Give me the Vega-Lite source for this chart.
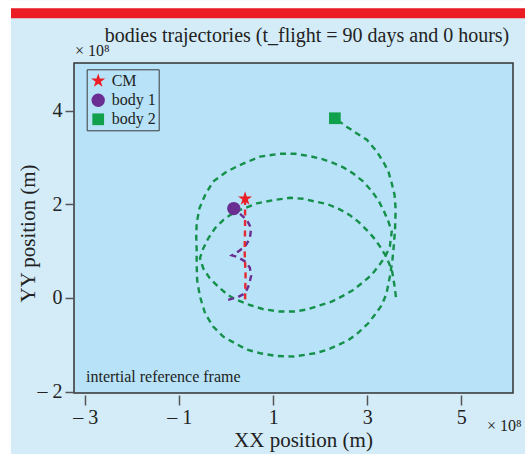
{
  "$schema": "https://vega.github.io/schema/vega-lite/v6.json",
  "width": 439,
  "height": 330,
  "padding": 0,
  "autosize": {"type": "pad"},
  "background": "#d3ecf8",
  "title": {
    "text": "bodies trajectories (t_flight = 90 days and 0 hours)",
    "font": "Liberation Serif",
    "fontSize": 20,
    "fontWeight": "normal",
    "color": "#222222",
    "frame": "group",
    "anchor": "middle",
    "dx": 13.5,
    "offset": -62,
    "baseline": "alphabetic"
  },
  "datasets": {
    "traj": [
      {"body": "body 2", "i": 1, "x": 3.61, "y": 0.02},
      {"body": "body 2", "i": 2, "x": 3.57, "y": 0.32},
      {"body": "body 2", "i": 3, "x": 3.53, "y": 0.56},
      {"body": "body 2", "i": 4, "x": 3.46, "y": 0.75},
      {"body": "body 2", "i": 5, "x": 3.38, "y": 0.92},
      {"body": "body 2", "i": 6, "x": 3.29, "y": 1.07},
      {"body": "body 2", "i": 7, "x": 3.16, "y": 1.26},
      {"body": "body 2", "i": 8, "x": 2.99, "y": 1.45},
      {"body": "body 2", "i": 9, "x": 2.82, "y": 1.62},
      {"body": "body 2", "i": 10, "x": 2.63, "y": 1.77},
      {"body": "body 2", "i": 11, "x": 2.40, "y": 1.90},
      {"body": "body 2", "i": 12, "x": 2.14, "y": 2.01},
      {"body": "body 2", "i": 13, "x": 1.89, "y": 2.06},
      {"body": "body 2", "i": 14, "x": 1.63, "y": 2.12},
      {"body": "body 2", "i": 15, "x": 1.36, "y": 2.14},
      {"body": "body 2", "i": 16, "x": 1.00, "y": 2.09},
      {"body": "body 2", "i": 17, "x": 0.65, "y": 2.02},
      {"body": "body 2", "i": 18, "x": 0.29, "y": 1.88},
      {"body": "body 2", "i": 19, "x": 0.08, "y": 1.77},
      {"body": "body 2", "i": 20, "x": -0.06, "y": 1.67},
      {"body": "body 2", "i": 21, "x": -0.24, "y": 1.49},
      {"body": "body 2", "i": 22, "x": -0.38, "y": 1.28},
      {"body": "body 2", "i": 23, "x": -0.49, "y": 1.06},
      {"body": "body 2", "i": 24, "x": -0.56, "y": 0.85},
      {"body": "body 2", "i": 25, "x": -0.49, "y": 0.63},
      {"body": "body 2", "i": 26, "x": -0.35, "y": 0.42},
      {"body": "body 2", "i": 27, "x": -0.17, "y": 0.24},
      {"body": "body 2", "i": 28, "x": 0.04, "y": 0.06},
      {"body": "body 2", "i": 29, "x": 0.22, "y": -0.04},
      {"body": "body 2", "i": 30, "x": 0.50, "y": -0.15},
      {"body": "body 2", "i": 31, "x": 0.79, "y": -0.24},
      {"body": "body 2", "i": 32, "x": 1.14, "y": -0.29},
      {"body": "body 2", "i": 33, "x": 1.46, "y": -0.29},
      {"body": "body 2", "i": 34, "x": 1.74, "y": -0.24},
      {"body": "body 2", "i": 35, "x": 1.99, "y": -0.16},
      {"body": "body 2", "i": 36, "x": 2.24, "y": -0.08},
      {"body": "body 2", "i": 37, "x": 2.49, "y": 0.05},
      {"body": "body 2", "i": 38, "x": 2.70, "y": 0.17},
      {"body": "body 2", "i": 39, "x": 2.90, "y": 0.33},
      {"body": "body 2", "i": 40, "x": 3.09, "y": 0.49},
      {"body": "body 2", "i": 41, "x": 3.26, "y": 0.71},
      {"body": "body 2", "i": 42, "x": 3.38, "y": 0.88},
      {"body": "body 2", "i": 43, "x": 3.48, "y": 1.10},
      {"body": "body 2", "i": 44, "x": 3.52, "y": 1.42},
      {"body": "body 2", "i": 45, "x": 3.45, "y": 1.63},
      {"body": "body 2", "i": 46, "x": 3.36, "y": 1.84},
      {"body": "body 2", "i": 47, "x": 3.24, "y": 2.08},
      {"body": "body 2", "i": 48, "x": 3.09, "y": 2.29},
      {"body": "body 2", "i": 49, "x": 2.91, "y": 2.49},
      {"body": "body 2", "i": 50, "x": 2.70, "y": 2.66},
      {"body": "body 2", "i": 51, "x": 2.49, "y": 2.79},
      {"body": "body 2", "i": 52, "x": 2.26, "y": 2.89},
      {"body": "body 2", "i": 53, "x": 2.03, "y": 2.97},
      {"body": "body 2", "i": 54, "x": 1.78, "y": 3.03},
      {"body": "body 2", "i": 55, "x": 1.46, "y": 3.08},
      {"body": "body 2", "i": 56, "x": 1.14, "y": 3.08},
      {"body": "body 2", "i": 57, "x": 0.72, "y": 3.02},
      {"body": "body 2", "i": 58, "x": 0.29, "y": 2.84},
      {"body": "body 2", "i": 59, "x": 0.01, "y": 2.70},
      {"body": "body 2", "i": 60, "x": -0.28, "y": 2.49},
      {"body": "body 2", "i": 61, "x": -0.45, "y": 2.20},
      {"body": "body 2", "i": 62, "x": -0.57, "y": 1.92},
      {"body": "body 2", "i": 63, "x": -0.63, "y": 1.60},
      {"body": "body 2", "i": 64, "x": -0.64, "y": 1.31},
      {"body": "body 2", "i": 65, "x": -0.63, "y": 1.03},
      {"body": "body 2", "i": 66, "x": -0.63, "y": 0.74},
      {"body": "body 2", "i": 67, "x": -0.62, "y": 0.38},
      {"body": "body 2", "i": 68, "x": -0.56, "y": 0.03},
      {"body": "body 2", "i": 69, "x": -0.45, "y": -0.33},
      {"body": "body 2", "i": 70, "x": -0.28, "y": -0.61},
      {"body": "body 2", "i": 71, "x": -0.06, "y": -0.83},
      {"body": "body 2", "i": 72, "x": 0.19, "y": -0.97},
      {"body": "body 2", "i": 73, "x": 0.43, "y": -1.10},
      {"body": "body 2", "i": 74, "x": 0.72, "y": -1.18},
      {"body": "body 2", "i": 75, "x": 1.07, "y": -1.24},
      {"body": "body 2", "i": 76, "x": 1.43, "y": -1.25},
      {"body": "body 2", "i": 77, "x": 1.64, "y": -1.22},
      {"body": "body 2", "i": 78, "x": 1.89, "y": -1.18},
      {"body": "body 2", "i": 79, "x": 2.14, "y": -1.11},
      {"body": "body 2", "i": 80, "x": 2.39, "y": -1.00},
      {"body": "body 2", "i": 81, "x": 2.60, "y": -0.90},
      {"body": "body 2", "i": 82, "x": 2.81, "y": -0.74},
      {"body": "body 2", "i": 83, "x": 3.02, "y": -0.54},
      {"body": "body 2", "i": 84, "x": 3.16, "y": -0.36},
      {"body": "body 2", "i": 85, "x": 3.31, "y": -0.15},
      {"body": "body 2", "i": 86, "x": 3.41, "y": 0.10},
      {"body": "body 2", "i": 87, "x": 3.48, "y": 0.46},
      {"body": "body 2", "i": 88, "x": 3.53, "y": 0.77},
      {"body": "body 2", "i": 89, "x": 3.56, "y": 1.07},
      {"body": "body 2", "i": 90, "x": 3.59, "y": 1.45},
      {"body": "body 2", "i": 91, "x": 3.60, "y": 1.77},
      {"body": "body 2", "i": 92, "x": 3.60, "y": 1.95},
      {"body": "body 2", "i": 93, "x": 3.58, "y": 2.20},
      {"body": "body 2", "i": 94, "x": 3.52, "y": 2.45},
      {"body": "body 2", "i": 95, "x": 3.45, "y": 2.70},
      {"body": "body 2", "i": 96, "x": 3.34, "y": 2.91},
      {"body": "body 2", "i": 97, "x": 3.20, "y": 3.13},
      {"body": "body 2", "i": 98, "x": 2.99, "y": 3.38},
      {"body": "body 2", "i": 99, "x": 2.77, "y": 3.52},
      {"body": "body 2", "i": 100, "x": 2.56, "y": 3.66},
      {"body": "body 2", "i": 101, "x": 2.31, "y": 3.84},
      {"body": "body 1", "i": 1, "x": 0.04, "y": -0.04},
      {"body": "body 1", "i": 2, "x": 0.25, "y": 0.02},
      {"body": "body 1", "i": 3, "x": 0.40, "y": 0.10},
      {"body": "body 1", "i": 4, "x": 0.48, "y": 0.27},
      {"body": "body 1", "i": 5, "x": 0.53, "y": 0.48},
      {"body": "body 1", "i": 6, "x": 0.50, "y": 0.65},
      {"body": "body 1", "i": 7, "x": 0.40, "y": 0.78},
      {"body": "body 1", "i": 8, "x": 0.25, "y": 0.87},
      {"body": "body 1", "i": 9, "x": 0.12, "y": 0.91},
      {"body": "body 1", "i": 10, "x": 0.25, "y": 0.99},
      {"body": "body 1", "i": 11, "x": 0.40, "y": 1.10},
      {"body": "body 1", "i": 12, "x": 0.50, "y": 1.27},
      {"body": "body 1", "i": 13, "x": 0.53, "y": 1.49},
      {"body": "body 1", "i": 14, "x": 0.44, "y": 1.66},
      {"body": "body 1", "i": 15, "x": 0.31, "y": 1.78},
      {"body": "body 1", "i": 16, "x": 0.16, "y": 1.91},
      {"body": "CM", "i": 1, "x": 0.40, "y": -0.03},
      {"body": "CM", "i": 2, "x": 0.41, "y": 0.50},
      {"body": "CM", "i": 3, "x": 0.39, "y": 1.00},
      {"body": "CM", "i": 4, "x": 0.40, "y": 1.50},
      {"body": "CM", "i": 5, "x": 0.40, "y": 2.12}
    ],
    "markers": [
      {"body": "CM", "x": 0.40, "y": 2.12},
      {"body": "body 1", "x": 0.16, "y": 1.91},
      {"body": "body 2", "x": 2.31, "y": 3.84}
    ]
  },
  "layer": [
    {
      "data": {"values": [{"part": "left margin"}]},
      "mark": {"type": "rect", "color": "#ffffff", "clip": false},
      "encoding": {
        "x": {"datum": -4.814, "type": "quantitative", "scale": {"domain": [-3.24, 6.1], "nice": false, "zero": false}},
        "x2": {"datum": -4.58},
        "y": {"datum": -3.3395, "type": "quantitative", "scale": {"domain": [-2.03, 5.02], "nice": false, "zero": false}},
        "y2": {"datum": 6.3595}
      }
    },
    {
      "data": {"values": [{"part": "top margin"}]},
      "mark": {"type": "rect", "color": "#ffffff", "clip": false},
      "encoding": {
        "x": {"datum": -4.814, "type": "quantitative", "scale": {"domain": [-3.24, 6.1], "nice": false, "zero": false}},
        "x2": {"datum": 6.3553},
        "y": {"datum": 6.189, "type": "quantitative", "scale": {"domain": [-2.03, 5.02], "nice": false, "zero": false}},
        "y2": {"datum": 6.3595}
      }
    },
    {
      "data": {"values": [{"part": "header band"}]},
      "mark": {"type": "rect", "color": "#ec1c24", "clip": false},
      "encoding": {
        "x": {"datum": -4.5804, "type": "quantitative", "scale": {"domain": [-3.24, 6.1], "nice": false, "zero": false}},
        "x2": {"datum": 6.3553},
        "y": {"datum": 5.975, "type": "quantitative", "scale": {"domain": [-2.03, 5.02], "nice": false, "zero": false}},
        "y2": {"datum": 6.189}
      }
    },
    {
      "data": {"name": "traj"},
      "mark": {"type": "line", "strokeDash": [6, 4.5], "strokeWidth": 2.4},
      "encoding": {
        "x": {
          "field": "x", "type": "quantitative",
          "scale": {"domain": [-3.24, 6.1], "nice": false, "zero": false},
          "axis": {
            "title": "XX position (m)",
            "values": [-3, -1, 1, 3, 5],
            "labelExpr": "datum.value < 0 ? '– ' + (-datum.value) : '' + datum.value",
            "domain": false, "grid": false,
            "offset": 2, "tickSize": 10, "tickWidth": 1.5, "tickColor": "#555555",
            "labelPadding": 2, "labelFontSize": 20, "labelFont": "Liberation Serif", "labelColor": "#222222",
            "titleFont": "Liberation Serif", "titleFontSize": 21, "titleFontWeight": "normal", "titleColor": "#222222",
            "titleX": 229, "titleY": 51, "titleBaseline": "alphabetic"
          }
        },
        "y": {
          "field": "y", "type": "quantitative",
          "scale": {"domain": [-2.03, 5.02], "nice": false, "zero": false},
          "axis": {
            "title": "YY position (m)",
            "values": [-2, 0, 2, 4],
            "labelExpr": "datum.value < 0 ? '– ' + (-datum.value) : '' + datum.value",
            "domain": false, "grid": false,
            "tickSize": 9, "tickWidth": 1.5, "tickColor": "#555555",
            "labelPadding": 3, "labelFontSize": 20, "labelFont": "Liberation Serif", "labelColor": "#222222",
            "titleFont": "Liberation Serif", "titleFontSize": 21, "titleFontWeight": "normal", "titleColor": "#222222",
            "titleX": -46, "titleY": 170, "titleBaseline": "middle", "titleAngle": -90
          }
        },
        "stroke": {
          "field": "body", "type": "nominal",
          "scale": {"domain": ["body 2", "body 1", "CM"], "range": ["#15904a", "#6a2e93", "#e52a31"]},
          "legend": null
        },
        "order": {"field": "i", "type": "quantitative"}
      }
    },
    {
      "data": {"name": "markers"},
      "mark": {"type": "point", "filled": true, "opacity": 1},
      "encoding": {
        "x": {"field": "x", "type": "quantitative", "scale": {"domain": [-3.24, 6.1], "nice": false, "zero": false}},
        "y": {"field": "y", "type": "quantitative", "scale": {"domain": [-2.03, 5.02], "nice": false, "zero": false}},
        "color": {
          "field": "body", "type": "nominal",
          "scale": {"domain": ["CM", "body 1", "body 2"], "range": ["#ec1c24", "#6a2d91", "#11a04c"]},
          "legend": {
            "title": null, "orient": "none", "legendX": 12.7, "legendY": 6.3,
            "padding": 3, "rowPadding": 3,
            "labelOffset": 5, "labelFont": "Liberation Serif", "labelFontSize": 16, "labelColor": "#222222",
            "strokeColor": "#3a3a3a", "fillColor": "#b7e2f7"
          }
        },
        "shape": {
          "field": "body", "type": "nominal",
          "scale": {"domain": ["CM", "body 1", "body 2"], "range": ["M0,-1L0.2245,-0.309L0.951,-0.309L0.3633,0.118L0.5878,0.809L0,0.382L-0.5878,0.809L-0.3633,0.118L-0.951,-0.309L-0.2245,-0.309Z", "circle", "square"]}
        },
        "size": {
          "field": "body", "type": "nominal",
          "scale": {"domain": ["CM", "body 1", "body 2"], "range": [220, 137, 100]}
        }
      }
    },
    {
      "data": {"values": [{"label": "intertial reference frame"}]},
      "mark": {"type": "text", "align": "left", "baseline": "alphabetic", "font": "Liberation Serif", "fontSize": 16, "color": "#222222", "clip": false},
      "encoding": {
        "x": {"datum": -2.985, "type": "quantitative", "scale": {"domain": [-3.24, 6.1], "nice": false, "zero": false}},
        "y": {"datum": -1.80, "type": "quantitative", "scale": {"domain": [-2.03, 5.02], "nice": false, "zero": false}},
        "text": {"field": "label"}
      }
    },
    {
      "data": {"values": [{"label": "× 10⁸"}]},
      "mark": {"type": "text", "align": "left", "baseline": "alphabetic", "font": "Liberation Serif", "fontSize": 16, "color": "#222222", "clip": false},
      "encoding": {
        "x": {"datum": -3.22, "type": "quantitative", "scale": {"domain": [-3.24, 6.1], "nice": false, "zero": false}},
        "y": {"datum": 5.163, "type": "quantitative", "scale": {"domain": [-2.03, 5.02], "nice": false, "zero": false}},
        "text": {"field": "label"}
      }
    },
    {
      "data": {"values": [{"label": "× 10⁸"}]},
      "mark": {"type": "text", "align": "left", "baseline": "alphabetic", "font": "Liberation Serif", "fontSize": 16, "color": "#222222", "clip": false},
      "encoding": {
        "x": {"datum": 5.547, "type": "quantitative", "scale": {"domain": [-3.24, 6.1], "nice": false, "zero": false}},
        "y": {"datum": -2.848, "type": "quantitative", "scale": {"domain": [-2.03, 5.02], "nice": false, "zero": false}},
        "text": {"field": "label"}
      }
    }
  ],
  "config": {
    "view": {"fill": "#b7e2f7", "stroke": "#333333", "strokeWidth": 1.5},
    "font": "Liberation Serif"
  }
}
